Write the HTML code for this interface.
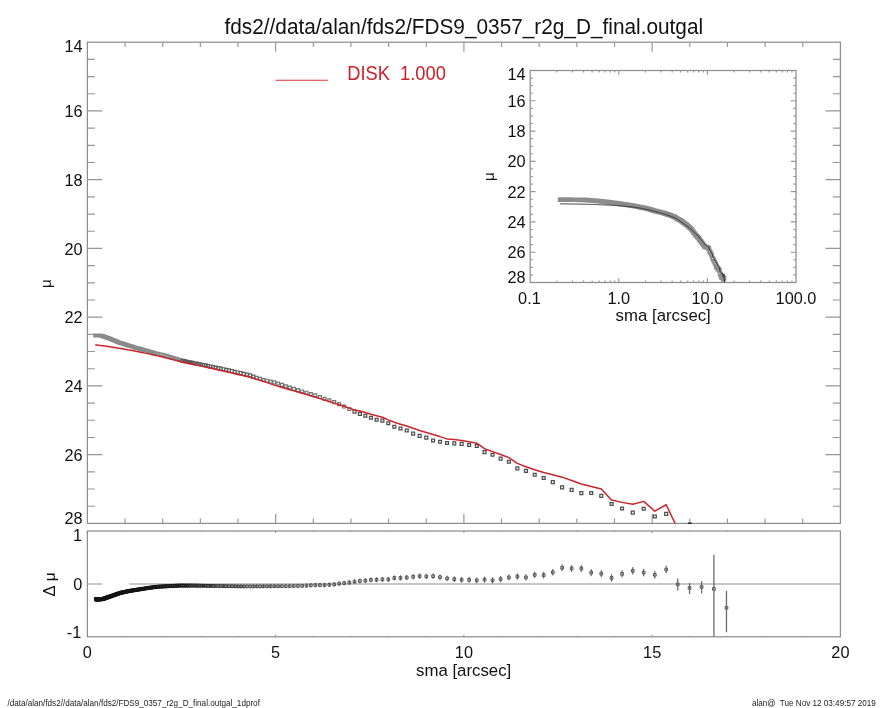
<!DOCTYPE html>
<html><head><meta charset="utf-8"><title>fds2//data/alan/fds2/FDS9_0357_r2g_D_final.outgal</title>
<style>
html,body{margin:0;padding:0;background:#fff;width:885px;height:708px;overflow:hidden}
svg{display:block;will-change:transform}
text{font-family:"Liberation Sans",Arial,Helvetica,sans-serif;fill:#111}
.ax{stroke:#8e8e8e;stroke-width:1.25;fill:none}
.tk{stroke:#969696;stroke-width:1.15;fill:none}
</style></head><body>
<svg width="885" height="708" viewBox="0 0 885 708">
<rect width="885" height="708" fill="#fff"/>
<text transform="translate(224.5 33.7) scale(1 1.09)" y="0" font-size="20.8">fds2//data/alan/fds2/FDS9_0357_r2g_D_final.outgal</text>
<rect class="ax" x="87.4" y="42.2" width="753" height="481.2"/>
<path class="tk" d="M125.05 523.4v-4.8M125.05 42.2v4.8M162.7 523.4v-4.8M162.7 42.2v4.8M200.35 523.4v-4.8M200.35 42.2v4.8M238 523.4v-4.8M238 42.2v4.8M275.65 523.4v-9.6M275.65 42.2v9.6M313.3 523.4v-4.8M313.3 42.2v4.8M350.95 523.4v-4.8M350.95 42.2v4.8M388.6 523.4v-4.8M388.6 42.2v4.8M426.25 523.4v-4.8M426.25 42.2v4.8M463.9 523.4v-9.6M463.9 42.2v9.6M501.55 523.4v-4.8M501.55 42.2v4.8M539.2 523.4v-4.8M539.2 42.2v4.8M576.85 523.4v-4.8M576.85 42.2v4.8M614.5 523.4v-4.8M614.5 42.2v4.8M652.15 523.4v-9.6M652.15 42.2v9.6M689.8 523.4v-4.8M689.8 42.2v4.8M727.45 523.4v-4.8M727.45 42.2v4.8M765.1 523.4v-4.8M765.1 42.2v4.8M802.75 523.4v-4.8M802.75 42.2v4.8M87.4 59.39h7.5M840.4 59.39h-7.5M87.4 76.57h7.5M840.4 76.57h-7.5M87.4 93.76h7.5M840.4 93.76h-7.5M87.4 110.94h15M840.4 110.94h-15M87.4 128.13h7.5M840.4 128.13h-7.5M87.4 145.31h7.5M840.4 145.31h-7.5M87.4 162.5h7.5M840.4 162.5h-7.5M87.4 179.69h15M840.4 179.69h-15M87.4 196.87h7.5M840.4 196.87h-7.5M87.4 214.06h7.5M840.4 214.06h-7.5M87.4 231.24h7.5M840.4 231.24h-7.5M87.4 248.43h15M840.4 248.43h-15M87.4 265.61h7.5M840.4 265.61h-7.5M87.4 282.8h7.5M840.4 282.8h-7.5M87.4 299.99h7.5M840.4 299.99h-7.5M87.4 317.17h15M840.4 317.17h-15M87.4 334.36h7.5M840.4 334.36h-7.5M87.4 351.54h7.5M840.4 351.54h-7.5M87.4 368.73h7.5M840.4 368.73h-7.5M87.4 385.91h15M840.4 385.91h-15M87.4 403.1h7.5M840.4 403.1h-7.5M87.4 420.29h7.5M840.4 420.29h-7.5M87.4 437.47h7.5M840.4 437.47h-7.5M87.4 454.66h15M840.4 454.66h-15M87.4 471.84h7.5M840.4 471.84h-7.5M87.4 489.03h7.5M840.4 489.03h-7.5M87.4 506.21h7.5M840.4 506.21h-7.5"/>
<text transform="translate(82.6 45.8) scale(1 1.05)" y="5.8" font-size="16.3" text-anchor="end">14</text>
<text transform="translate(82.6 110.94) scale(1 1.05)" y="5.8" font-size="16.3" text-anchor="end">16</text>
<text transform="translate(82.6 179.69) scale(1 1.05)" y="5.8" font-size="16.3" text-anchor="end">18</text>
<text transform="translate(82.6 248.43) scale(1 1.05)" y="5.8" font-size="16.3" text-anchor="end">20</text>
<text transform="translate(82.6 317.17) scale(1 1.05)" y="5.8" font-size="16.3" text-anchor="end">22</text>
<text transform="translate(82.6 385.91) scale(1 1.05)" y="5.8" font-size="16.3" text-anchor="end">24</text>
<text transform="translate(82.6 454.66) scale(1 1.05)" y="5.8" font-size="16.3" text-anchor="end">26</text>
<text transform="translate(82.6 518.2) scale(1 1.05)" y="5.8" font-size="16.3" text-anchor="end">28</text>
<text transform="translate(50.9,283.6) rotate(-90)" font-size="15.2" text-anchor="middle">μ</text>
<path d="M275.5 80.3H327.8" stroke="#e23030" stroke-width="1.1" fill="none"/>
<text transform="translate(347.2 73.4) scale(1 1.06)" y="6.5" font-size="18.3" style="fill:#cf1f28;white-space:pre" xml:space="preserve">DISK  1.000</text>
<defs><clipPath id="cm"><rect x="87.4" y="42.2" width="753" height="481.2"/></clipPath><clipPath id="ci"><rect x="530.2" y="70.5" width="265.8" height="212"/></clipPath><clipPath id="cr"><rect x="87.4" y="531.0" width="753" height="105.8"/></clipPath></defs>
<g clip-path="url(#cm)"><path d="M93.74 333.95h2.9v2.9h-2.9zM93.9 333.95h2.9v2.9h-2.9zM94.07 333.95h2.9v2.9h-2.9zM94.24 333.95h2.9v2.9h-2.9zM94.42 333.96h2.9v2.9h-2.9zM94.59 333.97h2.9v2.9h-2.9zM94.77 333.98h2.9v2.9h-2.9zM94.96 333.99h2.9v2.9h-2.9zM95.15 334h2.9v2.9h-2.9zM95.34 334.01h2.9v2.9h-2.9zM95.54 334.02h2.9v2.9h-2.9zM95.73 334.03h2.9v2.9h-2.9zM95.94 334.04h2.9v2.9h-2.9zM96.15 334.05h2.9v2.9h-2.9zM96.36 334.06h2.9v2.9h-2.9zM96.58 334.07h2.9v2.9h-2.9zM96.8 334.08h2.9v2.9h-2.9zM97.02 334.09h2.9v2.9h-2.9zM97.25 334.11h2.9v2.9h-2.9zM97.49 334.12h2.9v2.9h-2.9zM97.72 334.13h2.9v2.9h-2.9zM97.97 334.14h2.9v2.9h-2.9zM98.22 334.15h2.9v2.9h-2.9zM98.47 334.17h2.9v2.9h-2.9zM98.73 334.18h2.9v2.9h-2.9zM98.99 334.19h2.9v2.9h-2.9zM99.26 334.21h2.9v2.9h-2.9zM99.54 334.22h2.9v2.9h-2.9zM99.82 334.23h2.9v2.9h-2.9zM100.1 334.25h2.9v2.9h-2.9zM100.39 334.34h2.9v2.9h-2.9zM100.69 334.45h2.9v2.9h-2.9zM100.99 334.56h2.9v2.9h-2.9zM101.3 334.67h2.9v2.9h-2.9zM101.62 334.79h2.9v2.9h-2.9zM101.94 334.91h2.9v2.9h-2.9zM102.27 335.03h2.9v2.9h-2.9zM102.6 335.15h2.9v2.9h-2.9zM102.94 335.27h2.9v2.9h-2.9zM103.29 335.4h2.9v2.9h-2.9zM103.64 335.53h2.9v2.9h-2.9zM104.01 335.66h2.9v2.9h-2.9zM104.38 335.8h2.9v2.9h-2.9zM104.75 335.94h2.9v2.9h-2.9zM105.14 336.08h2.9v2.9h-2.9zM105.53 336.22h2.9v2.9h-2.9zM105.93 336.37h2.9v2.9h-2.9zM106.34 336.52h2.9v2.9h-2.9zM106.75 336.67h2.9v2.9h-2.9zM107.18 336.83h2.9v2.9h-2.9zM107.61 336.99h2.9v2.9h-2.9zM108.05 337.15h2.9v2.9h-2.9zM108.5 337.31h2.9v2.9h-2.9zM108.96 337.48h2.9v2.9h-2.9zM109.43 337.66h2.9v2.9h-2.9zM109.91 337.85h2.9v2.9h-2.9zM110.39 338.05h2.9v2.9h-2.9zM110.89 338.25h2.9v2.9h-2.9zM111.4 338.45h2.9v2.9h-2.9zM111.92 338.66h2.9v2.9h-2.9zM112.44 338.87h2.9v2.9h-2.9zM112.98 339.08h2.9v2.9h-2.9zM113.53 339.3h2.9v2.9h-2.9zM114.09 339.53h2.9v2.9h-2.9zM114.66 339.75h2.9v2.9h-2.9zM115.24 339.99h2.9v2.9h-2.9zM115.84 340.22h2.9v2.9h-2.9zM116.44 340.47h2.9v2.9h-2.9zM117.06 340.71h2.9v2.9h-2.9zM117.69 340.97h2.9v2.9h-2.9zM118.33 341.21h2.9v2.9h-2.9zM118.99 341.43h2.9v2.9h-2.9zM119.66 341.65h2.9v2.9h-2.9zM120.34 341.87h2.9v2.9h-2.9zM121.04 342.1h2.9v2.9h-2.9zM121.75 342.34h2.9v2.9h-2.9zM122.47 342.57h2.9v2.9h-2.9zM123.21 342.82h2.9v2.9h-2.9zM123.96 343.07h2.9v2.9h-2.9zM124.73 343.32h2.9v2.9h-2.9zM125.52 343.58h2.9v2.9h-2.9zM126.32 343.84h2.9v2.9h-2.9zM127.13 344.11h2.9v2.9h-2.9zM127.96 344.36h2.9v2.9h-2.9zM128.81 344.62h2.9v2.9h-2.9zM129.68 344.88h2.9v2.9h-2.9zM130.56 345.14h2.9v2.9h-2.9zM131.46 345.41h2.9v2.9h-2.9zM132.38 345.69h2.9v2.9h-2.9zM133.31 345.97h2.9v2.9h-2.9zM134.27 346.26h2.9v2.9h-2.9zM135.24 346.55h2.9v2.9h-2.9zM136.24 346.85h2.9v2.9h-2.9zM137.25 347.11h2.9v2.9h-2.9zM138.29 347.39h2.9v2.9h-2.9zM139.34 347.67h2.9v2.9h-2.9zM140.42 347.95h2.9v2.9h-2.9zM141.52 348.24h2.9v2.9h-2.9zM142.64 348.53h2.9v2.9h-2.9zM143.78 348.84h2.9v2.9h-2.9zM144.94 349.14h2.9v2.9h-2.9zM146.13 349.48h2.9v2.9h-2.9zM147.34 349.83h2.9v2.9h-2.9zM148.58 350.18h2.9v2.9h-2.9zM149.84 350.55h2.9v2.9h-2.9zM151.12 350.92h2.9v2.9h-2.9zM152.44 351.3h2.9v2.9h-2.9zM153.77 351.68h2.9v2.9h-2.9zM155.14 352.03h2.9v2.9h-2.9zM156.53 352.35h2.9v2.9h-2.9zM157.95 352.68h2.9v2.9h-2.9zM159.4 353.02h2.9v2.9h-2.9zM160.88 353.36h2.9v2.9h-2.9zM162.38 353.7h2.9v2.9h-2.9zM163.92 354.09h2.9v2.9h-2.9zM165.49 354.57h2.9v2.9h-2.9zM167.09 355.06h2.9v2.9h-2.9zM168.72 355.56h2.9v2.9h-2.9zM170.38 356.06h2.9v2.9h-2.9zM172.08 356.58h2.9v2.9h-2.9zM173.81 357.11h2.9v2.9h-2.9zM175.57 357.65h2.9v2.9h-2.9zM177.37 358.2h2.9v2.9h-2.9zM179.21 358.76h2.9v2.9h-2.9z" stroke="#8a8a8a" stroke-width="1.1" fill="none"/><path d="M181.08 359.33h2.9v2.9h-2.9zM183 359.72h2.9v2.9h-2.9zM184.94 360.11h2.9v2.9h-2.9zM186.93 360.5h2.9v2.9h-2.9zM188.96 360.91h2.9v2.9h-2.9zM191.03 361.32h2.9v2.9h-2.9zM193.14 361.74h2.9v2.9h-2.9zM195.29 362.17h2.9v2.9h-2.9zM197.49 362.6h2.9v2.9h-2.9zM199.72 363.05h2.9v2.9h-2.9zM202.01 363.5h2.9v2.9h-2.9zM204.34 363.97h2.9v2.9h-2.9zM206.71 364.48h2.9v2.9h-2.9zM209.14 364.99h2.9v2.9h-2.9zM211.61 365.52h2.9v2.9h-2.9zM214.13 366.05h2.9v2.9h-2.9zM216.7 366.6h2.9v2.9h-2.9zM219.33 367.16h2.9v2.9h-2.9zM222 367.73h2.9v2.9h-2.9zM224.73 368.31h2.9v2.9h-2.9zM227.51 368.93h2.9v2.9h-2.9zM230.35 369.61h2.9v2.9h-2.9zM233.25 370.3h2.9v2.9h-2.9zM236.2 371h2.9v2.9h-2.9zM239.22 371.72h2.9v2.9h-2.9zM242.29 372.46h2.9v2.9h-2.9zM245.43 373.21h2.9v2.9h-2.9zM248.62 373.97h2.9v2.9h-2.9zM251.88 375.17h2.9v2.9h-2.9z" stroke="#5a5a5a" stroke-width="1.2" fill="none"/><path d="M255.21 376.44h2.9v2.9h-2.9zM258.61 377.34h2.9v2.9h-2.9zM262.07 378.55h2.9v2.9h-2.9zM265.6 379.24h2.9v2.9h-2.9zM269.2 380.18h2.9v2.9h-2.9zM272.87 380.91h2.9v2.9h-2.9zM276.62 382.11h2.9v2.9h-2.9zM280.44 383.47h2.9v2.9h-2.9zM284.34 384.84h2.9v2.9h-2.9zM288.31 386.07h2.9v2.9h-2.9zM292.37 387.39h2.9v2.9h-2.9zM296.51 388.67h2.9v2.9h-2.9zM300.72 390h2.9v2.9h-2.9zM305.03 391.26h2.9v2.9h-2.9zM309.42 392.56h2.9v2.9h-2.9zM313.9 393.8h2.9v2.9h-2.9zM318.46 395.59h2.9v2.9h-2.9zM323.12 397.39h2.9v2.9h-2.9zM327.87 398.8h2.9v2.9h-2.9zM332.72 400.68h2.9v2.9h-2.9zM337.66 402.67h2.9v2.9h-2.9zM342.71 405.08h2.9v2.9h-2.9zM347.85 407.55h2.9v2.9h-2.9z" stroke="#747474" stroke-width="1.2" fill="none"/><path d="M353.1 410.17h2.9v2.9h-2.9zM358.45 412.35h2.9v2.9h-2.9zM363.9 414.3h2.9v2.9h-2.9zM369.47 416.26h2.9v2.9h-2.9zM375.15 418.28h2.9v2.9h-2.9zM380.94 419.23h2.9v2.9h-2.9zM386.85 421.81h2.9v2.9h-2.9zM392.88 425.31h2.9v2.9h-2.9zM399.02 427.04h2.9v2.9h-2.9zM405.29 429.03h2.9v2.9h-2.9zM411.69 432.16h2.9v2.9h-2.9zM418.21 434.4h2.9v2.9h-2.9zM424.86 436.1h2.9v2.9h-2.9zM431.65 439.01h2.9v2.9h-2.9zM438.57 440.34h2.9v2.9h-2.9zM445.63 441.56h2.9v2.9h-2.9zM452.84 441.85h2.9v2.9h-2.9zM460.18 442.44h2.9v2.9h-2.9zM467.67 443.55h2.9v2.9h-2.9zM475.32 444.58h2.9v2.9h-2.9zM483.11 450.67h2.9v2.9h-2.9zM491.06 453.26h2.9v2.9h-2.9zM499.18 457.11h2.9v2.9h-2.9zM507.45 460.31h2.9v2.9h-2.9zM515.89 466.96h2.9v2.9h-2.9zM524.49 469.37h2.9v2.9h-2.9zM533.27 473.31h2.9v2.9h-2.9zM542.23 476.57h2.9v2.9h-2.9zM551.36 480.61h2.9v2.9h-2.9zM560.68 485.91h2.9v2.9h-2.9zM570.18 488.36h2.9v2.9h-2.9zM579.87 491.72h2.9v2.9h-2.9zM589.76 491.58h2.9v2.9h-2.9zM599.84 494.42h2.9v2.9h-2.9zM610.13 502.53h2.9v2.9h-2.9zM620.62 507.09h2.9v2.9h-2.9zM631.32 511.2h2.9v2.9h-2.9zM642.24 507.29h2.9v2.9h-2.9zM653.37 515h2.9v2.9h-2.9zM664.73 512.45h2.9v2.9h-2.9zM676.31 527.31h2.9v2.9h-2.9zM688.13 541.72h2.9v2.9h-2.9zM700.18 557.41h2.9v2.9h-2.9zM712.47 571.06h2.9v2.9h-2.9zM725.01 571.65h2.9v2.9h-2.9z" stroke="#4e4e4e" stroke-width="1.25" fill="none"/><polyline points="95.19,344.9 95.35,344.9 95.52,344.9 95.69,344.91 95.87,344.93 96.04,344.95 96.22,344.98 96.41,345 96.6,345.02 96.79,345.05 96.99,345.07 97.18,345.1 97.39,345.12 97.6,345.15 97.81,345.17 98.03,345.2 98.25,345.23 98.47,345.26 98.7,345.28 98.94,345.31 99.17,345.34 99.42,345.37 99.67,345.4 99.92,345.43 100.18,345.47 100.44,345.5 100.71,345.53 100.99,345.57 101.27,345.6 101.55,345.64 101.84,345.67 102.14,345.71 102.44,345.75 102.75,345.79 103.07,345.82 103.39,345.86 103.72,345.9 104.05,345.95 104.39,345.99 104.74,346.03 105.09,346.08 105.46,346.12 105.83,346.17 106.2,346.22 106.59,346.28 106.98,346.34 107.38,346.4 107.79,346.46 108.2,346.53 108.63,346.59 109.06,346.66 109.5,346.73 109.95,346.8 110.41,346.87 110.88,346.94 111.36,347.02 111.84,347.09 112.34,347.17 112.85,347.25 113.37,347.33 113.89,347.41 114.43,347.5 114.98,347.58 115.54,347.67 116.11,347.77 116.69,347.86 117.29,347.96 117.89,348.06 118.51,348.16 119.14,348.27 119.78,348.37 120.44,348.48 121.11,348.59 121.79,348.7 122.49,348.82 123.2,348.93 123.92,349.05 124.66,349.18 125.41,349.32 126.18,349.45 126.97,349.59 127.77,349.73 128.58,349.88 129.41,350.03 130.26,350.18 131.13,350.33 132.01,350.49 132.91,350.65 133.83,350.83 134.76,351.01 135.72,351.2 136.69,351.4 137.69,351.6 138.7,351.8 139.74,352.01 140.79,352.22 141.87,352.43 142.97,352.66 144.09,352.89 145.23,353.13 146.39,353.38 147.58,353.62 148.79,353.88 150.03,354.13 151.29,354.4 152.57,354.68 153.89,354.97 155.22,355.27 156.59,355.58 157.98,355.88 159.4,356.2 160.85,356.54 162.33,356.93 163.83,357.32 165.37,357.72 166.94,358.12 168.54,358.53 170.17,358.93 171.83,359.34 173.53,359.76 175.26,360.19 177.02,360.62 178.82,361.07 180.66,361.52 182.53,361.98 184.45,362.41 186.39,362.84 188.38,363.28 190.41,363.73 192.48,364.19 194.59,364.65 196.74,365.13 198.94,365.61 201.17,366.11 203.46,366.61 205.79,367.13 208.16,367.67 210.59,368.22 213.06,368.77 215.58,369.34 218.15,369.92 220.78,370.51 223.45,371.12 226.18,371.73 228.96,372.37 231.8,373.04 234.7,373.72 237.65,374.41 240.67,375.12 243.74,375.84 246.88,376.57 250.07,377.32 253.33,378.29 256.66,379.29 260.06,380.32 263.52,381.48 267.05,382.66 270.65,383.87 274.32,385.1 278.07,386.33 281.89,387.43 285.79,388.55 289.76,389.7 293.82,390.86 297.96,392.05 302.17,393.29 306.48,394.59 310.87,395.91 315.35,397.26 319.91,398.63 324.57,400.06 329.32,401.58 334.17,403.12 339.11,404.7 344.16,406.3 349.3,408.12 354.55,410.03 359.9,411.05 365.35,412.52 370.92,414.2 376.6,415.68 382.39,417.31 388.3,419.85 394.33,422.25 400.47,424.19 406.74,426.08 413.14,428.29 419.66,430.46 426.31,432.46 433.1,434.5 440.02,436.59 447.08,438.9 454.29,439.6 461.63,440.5 469.12,441.69 476.77,443.22 484.56,448.72 492.51,451.61 500.63,454.57 508.9,457.61 517.34,463.41 525.94,466.81 534.72,469.77 543.68,472.52 552.81,474.81 562.13,477.15 571.63,480.44 581.32,483.93 591.21,486.4 601.29,489 611.58,500.06 622.07,502.37 632.77,504.28 643.69,501.38 654.82,511.13 666.18,504.74 677.76,528.99 689.58,545.97 701.63,561.01 713.92,575.99 726.46,590" stroke="#cc2429" stroke-width="1.5" fill="none" stroke-linejoin="round"/></g>
<path d="M687.9 523.2H691.7" stroke="#1a1a1a" stroke-width="1.4" fill="none"/>
<rect x="530.2" y="70.5" width="265.8" height="212" fill="#fff"/><rect class="ax" x="530.2" y="70.5" width="265.8" height="212"/>
<path class="tk" d="M556.87 282.5v-2.1M556.87 70.5v2.1M572.47 282.5v-2.1M572.47 70.5v2.1M583.54 282.5v-2.1M583.54 70.5v2.1M592.13 282.5v-2.1M592.13 70.5v2.1M599.14 282.5v-2.1M599.14 70.5v2.1M605.08 282.5v-2.1M605.08 70.5v2.1M610.21 282.5v-2.1M610.21 70.5v2.1M614.75 282.5v-2.1M614.75 70.5v2.1M618.8 282.5v-4.2M618.8 70.5v4.2M645.47 282.5v-2.1M645.47 70.5v2.1M661.07 282.5v-2.1M661.07 70.5v2.1M672.14 282.5v-2.1M672.14 70.5v2.1M680.73 282.5v-2.1M680.73 70.5v2.1M687.74 282.5v-2.1M687.74 70.5v2.1M693.68 282.5v-2.1M693.68 70.5v2.1M698.81 282.5v-2.1M698.81 70.5v2.1M703.35 282.5v-2.1M703.35 70.5v2.1M707.4 282.5v-4.2M707.4 70.5v4.2M734.07 282.5v-2.1M734.07 70.5v2.1M749.67 282.5v-2.1M749.67 70.5v2.1M760.74 282.5v-2.1M760.74 70.5v2.1M769.33 282.5v-2.1M769.33 70.5v2.1M776.34 282.5v-2.1M776.34 70.5v2.1M782.28 282.5v-2.1M782.28 70.5v2.1M787.41 282.5v-2.1M787.41 70.5v2.1M791.95 282.5v-2.1M791.95 70.5v2.1M530.2 78.07h2.65M796 78.07h-2.65M530.2 85.64h2.65M796 85.64h-2.65M530.2 93.21h2.65M796 93.21h-2.65M530.2 100.79h5.3M796 100.79h-5.3M530.2 108.36h2.65M796 108.36h-2.65M530.2 115.93h2.65M796 115.93h-2.65M530.2 123.5h2.65M796 123.5h-2.65M530.2 131.07h5.3M796 131.07h-5.3M530.2 138.64h2.65M796 138.64h-2.65M530.2 146.21h2.65M796 146.21h-2.65M530.2 153.79h2.65M796 153.79h-2.65M530.2 161.36h5.3M796 161.36h-5.3M530.2 168.93h2.65M796 168.93h-2.65M530.2 176.5h2.65M796 176.5h-2.65M530.2 184.07h2.65M796 184.07h-2.65M530.2 191.64h5.3M796 191.64h-5.3M530.2 199.21h2.65M796 199.21h-2.65M530.2 206.79h2.65M796 206.79h-2.65M530.2 214.36h2.65M796 214.36h-2.65M530.2 221.93h5.3M796 221.93h-5.3M530.2 229.5h2.65M796 229.5h-2.65M530.2 237.07h2.65M796 237.07h-2.65M530.2 244.64h2.65M796 244.64h-2.65M530.2 252.21h5.3M796 252.21h-5.3M530.2 259.79h2.65M796 259.79h-2.65M530.2 267.36h2.65M796 267.36h-2.65M530.2 274.93h2.65M796 274.93h-2.65"/>
<text transform="translate(525.6 74.1) scale(1 1.05)" y="5.8" font-size="16.3" text-anchor="end">14</text>
<text transform="translate(525.6 100.79) scale(1 1.05)" y="5.8" font-size="16.3" text-anchor="end">16</text>
<text transform="translate(525.6 131.07) scale(1 1.05)" y="5.8" font-size="16.3" text-anchor="end">18</text>
<text transform="translate(525.6 161.36) scale(1 1.05)" y="5.8" font-size="16.3" text-anchor="end">20</text>
<text transform="translate(525.6 191.64) scale(1 1.05)" y="5.8" font-size="16.3" text-anchor="end">22</text>
<text transform="translate(525.6 221.93) scale(1 1.05)" y="5.8" font-size="16.3" text-anchor="end">24</text>
<text transform="translate(525.6 252.21) scale(1 1.05)" y="5.8" font-size="16.3" text-anchor="end">26</text>
<text transform="translate(525.6 277.3) scale(1 1.05)" y="5.8" font-size="16.3" text-anchor="end">28</text>
<text transform="translate(529.4 297.8) scale(1 1.05)" y="5.8" font-size="16.3" text-anchor="middle">0.1</text>
<text transform="translate(618.8 297.8) scale(1 1.05)" y="5.8" font-size="16.3" text-anchor="middle">1.0</text>
<text transform="translate(707.4 297.8) scale(1 1.05)" y="5.8" font-size="16.3" text-anchor="middle">10.0</text>
<text transform="translate(796 297.8) scale(1 1.05)" y="5.8" font-size="16.3" text-anchor="middle">100.0</text>
<text transform="translate(663.2 315) scale(1 1.03)" y="6" font-size="16.8" text-anchor="middle">sma [arcsec]</text>
<text transform="translate(493.7,176.6) rotate(-90)" font-size="15.2" text-anchor="middle">μ</text>
<g clip-path="url(#ci)"><path d="M558.35 197.87h3.6v3.6h-3.6zM559.11 197.87h3.6v3.6h-3.6zM559.87 197.87h3.6v3.6h-3.6zM560.63 197.88h3.6v3.6h-3.6zM561.4 197.88h3.6v3.6h-3.6zM562.16 197.88h3.6v3.6h-3.6zM562.92 197.89h3.6v3.6h-3.6zM563.68 197.89h3.6v3.6h-3.6zM564.44 197.9h3.6v3.6h-3.6zM565.21 197.9h3.6v3.6h-3.6zM565.97 197.9h3.6v3.6h-3.6zM566.73 197.91h3.6v3.6h-3.6zM567.49 197.91h3.6v3.6h-3.6zM568.25 197.92h3.6v3.6h-3.6zM569.02 197.92h3.6v3.6h-3.6zM569.78 197.93h3.6v3.6h-3.6zM570.54 197.93h3.6v3.6h-3.6zM571.3 197.94h3.6v3.6h-3.6zM572.06 197.94h3.6v3.6h-3.6zM572.83 197.95h3.6v3.6h-3.6zM573.59 197.95h3.6v3.6h-3.6zM574.35 197.96h3.6v3.6h-3.6zM575.11 197.96h3.6v3.6h-3.6zM575.87 197.97h3.6v3.6h-3.6zM576.64 197.97h3.6v3.6h-3.6zM577.4 197.98h3.6v3.6h-3.6zM578.16 197.99h3.6v3.6h-3.6zM578.92 197.99h3.6v3.6h-3.6zM579.68 198h3.6v3.6h-3.6zM580.45 198h3.6v3.6h-3.6zM581.21 198.05h3.6v3.6h-3.6zM581.97 198.09h3.6v3.6h-3.6zM582.73 198.14h3.6v3.6h-3.6zM583.49 198.19h3.6v3.6h-3.6zM584.26 198.24h3.6v3.6h-3.6zM585.02 198.29h3.6v3.6h-3.6zM585.78 198.35h3.6v3.6h-3.6zM586.54 198.4h3.6v3.6h-3.6zM587.3 198.46h3.6v3.6h-3.6zM588.07 198.51h3.6v3.6h-3.6zM588.83 198.57h3.6v3.6h-3.6zM589.59 198.63h3.6v3.6h-3.6zM590.35 198.69h3.6v3.6h-3.6zM591.11 198.75h3.6v3.6h-3.6zM591.88 198.81h3.6v3.6h-3.6zM592.64 198.87h3.6v3.6h-3.6zM593.4 198.94h3.6v3.6h-3.6zM594.16 199.01h3.6v3.6h-3.6zM594.92 199.07h3.6v3.6h-3.6zM595.69 199.14h3.6v3.6h-3.6zM596.45 199.21h3.6v3.6h-3.6zM597.21 199.28h3.6v3.6h-3.6zM597.97 199.35h3.6v3.6h-3.6zM598.73 199.43h3.6v3.6h-3.6zM599.5 199.51h3.6v3.6h-3.6zM600.26 199.59h3.6v3.6h-3.6zM601.02 199.68h3.6v3.6h-3.6zM601.78 199.77h3.6v3.6h-3.6zM602.54 199.86h3.6v3.6h-3.6zM603.3 199.95h3.6v3.6h-3.6zM604.07 200.04h3.6v3.6h-3.6zM604.83 200.13h3.6v3.6h-3.6zM605.59 200.23h3.6v3.6h-3.6zM606.35 200.33h3.6v3.6h-3.6zM607.11 200.43h3.6v3.6h-3.6zM607.88 200.53h3.6v3.6h-3.6zM608.64 200.64h3.6v3.6h-3.6zM609.4 200.74h3.6v3.6h-3.6zM610.16 200.85h3.6v3.6h-3.6zM610.92 200.96h3.6v3.6h-3.6zM611.69 201.07h3.6v3.6h-3.6zM612.45 201.17h3.6v3.6h-3.6zM613.21 201.26h3.6v3.6h-3.6zM613.97 201.36h3.6v3.6h-3.6zM614.73 201.47h3.6v3.6h-3.6zM615.5 201.57h3.6v3.6h-3.6zM616.26 201.67h3.6v3.6h-3.6zM617.02 201.78h3.6v3.6h-3.6zM617.78 201.89h3.6v3.6h-3.6zM618.54 202h3.6v3.6h-3.6zM619.31 202.12h3.6v3.6h-3.6zM620.07 202.23h3.6v3.6h-3.6zM620.83 202.35h3.6v3.6h-3.6zM621.59 202.46h3.6v3.6h-3.6zM622.35 202.57h3.6v3.6h-3.6zM623.12 202.69h3.6v3.6h-3.6zM623.88 202.8h3.6v3.6h-3.6zM624.64 202.92h3.6v3.6h-3.6zM625.4 203.05h3.6v3.6h-3.6zM626.16 203.17h3.6v3.6h-3.6zM626.93 203.3h3.6v3.6h-3.6zM627.69 203.42h3.6v3.6h-3.6zM628.45 203.56h3.6v3.6h-3.6zM629.21 203.67h3.6v3.6h-3.6zM629.97 203.79h3.6v3.6h-3.6zM630.74 203.92h3.6v3.6h-3.6zM631.5 204.04h3.6v3.6h-3.6zM632.26 204.17h3.6v3.6h-3.6zM633.02 204.3h3.6v3.6h-3.6zM633.78 204.43h3.6v3.6h-3.6zM634.55 204.57h3.6v3.6h-3.6zM635.31 204.71h3.6v3.6h-3.6zM636.07 204.87h3.6v3.6h-3.6zM636.83 205.03h3.6v3.6h-3.6zM637.59 205.19h3.6v3.6h-3.6zM638.36 205.35h3.6v3.6h-3.6zM639.12 205.52h3.6v3.6h-3.6zM639.88 205.69h3.6v3.6h-3.6zM640.64 205.84h3.6v3.6h-3.6zM641.4 205.98h3.6v3.6h-3.6zM642.17 206.13h3.6v3.6h-3.6zM642.93 206.27h3.6v3.6h-3.6zM643.69 206.42h3.6v3.6h-3.6zM644.45 206.58h3.6v3.6h-3.6zM645.21 206.75h3.6v3.6h-3.6zM645.98 206.96h3.6v3.6h-3.6zM646.74 207.17h3.6v3.6h-3.6zM647.5 207.39h3.6v3.6h-3.6zM648.26 207.62h3.6v3.6h-3.6zM649.02 207.84h3.6v3.6h-3.6zM649.79 208.08h3.6v3.6h-3.6zM650.55 208.31h3.6v3.6h-3.6zM651.31 208.56h3.6v3.6h-3.6zM652.07 208.8h3.6v3.6h-3.6zM652.83 209.06h3.6v3.6h-3.6zM653.6 209.23h3.6v3.6h-3.6zM654.36 209.4h3.6v3.6h-3.6zM655.12 209.57h3.6v3.6h-3.6zM655.88 209.75h3.6v3.6h-3.6zM656.64 209.93h3.6v3.6h-3.6zM657.41 210.12h3.6v3.6h-3.6zM658.17 210.3h3.6v3.6h-3.6zM658.93 210.5h3.6v3.6h-3.6zM659.69 210.69h3.6v3.6h-3.6zM660.45 210.89h3.6v3.6h-3.6zM661.22 211.1h3.6v3.6h-3.6zM661.98 211.32h3.6v3.6h-3.6zM662.74 211.55h3.6v3.6h-3.6zM663.5 211.78h3.6v3.6h-3.6zM664.26 212.02h3.6v3.6h-3.6zM665.02 212.26h3.6v3.6h-3.6zM665.79 212.5h3.6v3.6h-3.6zM666.55 212.75h3.6v3.6h-3.6zM667.31 213.01h3.6v3.6h-3.6zM668.07 213.28h3.6v3.6h-3.6zM668.83 213.58h3.6v3.6h-3.6zM669.6 213.89h3.6v3.6h-3.6zM670.36 214.2h3.6v3.6h-3.6zM671.12 214.52h3.6v3.6h-3.6zM671.88 214.84h3.6v3.6h-3.6zM672.64 215.17h3.6v3.6h-3.6zM673.41 215.51h3.6v3.6h-3.6zM674.17 216.03h3.6v3.6h-3.6zM674.93 216.59h3.6v3.6h-3.6zM675.69 216.99h3.6v3.6h-3.6zM676.45 217.52h3.6v3.6h-3.6zM677.22 217.83h3.6v3.6h-3.6zM677.98 218.24h3.6v3.6h-3.6zM678.74 218.56h3.6v3.6h-3.6zM679.5 219.09h3.6v3.6h-3.6zM680.26 219.69h3.6v3.6h-3.6zM681.03 220.29h3.6v3.6h-3.6zM681.79 220.84h3.6v3.6h-3.6zM682.55 221.42h3.6v3.6h-3.6zM683.31 221.98h3.6v3.6h-3.6zM684.07 222.57h3.6v3.6h-3.6zM684.84 223.12h3.6v3.6h-3.6zM685.6 223.7h3.6v3.6h-3.6zM686.36 224.24h3.6v3.6h-3.6zM687.12 225.03h3.6v3.6h-3.6zM687.88 225.82h3.6v3.6h-3.6zM688.65 226.44h3.6v3.6h-3.6zM689.41 227.27h3.6v3.6h-3.6zM690.17 228.15h3.6v3.6h-3.6zM690.93 229.21h3.6v3.6h-3.6zM691.69 230.3h3.6v3.6h-3.6zM692.46 231.45h3.6v3.6h-3.6zM693.22 232.41h3.6v3.6h-3.6zM693.98 233.27h3.6v3.6h-3.6zM694.74 234.14h3.6v3.6h-3.6zM695.5 235.03h3.6v3.6h-3.6zM696.27 235.45h3.6v3.6h-3.6zM697.03 236.58h3.6v3.6h-3.6zM697.79 238.12h3.6v3.6h-3.6zM698.55 238.89h3.6v3.6h-3.6zM699.31 239.76h3.6v3.6h-3.6zM700.08 241.14h3.6v3.6h-3.6zM700.84 242.13h3.6v3.6h-3.6zM701.6 242.88h3.6v3.6h-3.6zM702.36 244.16h3.6v3.6h-3.6zM703.12 244.74h3.6v3.6h-3.6zM703.89 245.28h3.6v3.6h-3.6zM704.65 245.41h3.6v3.6h-3.6zM705.41 245.67h3.6v3.6h-3.6zM706.17 246.16h3.6v3.6h-3.6zM706.93 246.61h3.6v3.6h-3.6zM707.7 249.3h3.6v3.6h-3.6zM708.46 250.44h3.6v3.6h-3.6zM709.22 252.14h3.6v3.6h-3.6zM709.98 253.54h3.6v3.6h-3.6zM710.74 256.47h3.6v3.6h-3.6zM711.51 257.53h3.6v3.6h-3.6zM712.27 259.27h3.6v3.6h-3.6zM713.03 260.71h3.6v3.6h-3.6zM713.79 262.49h3.6v3.6h-3.6zM714.55 264.82h3.6v3.6h-3.6zM715.32 265.9h3.6v3.6h-3.6zM716.08 267.38h3.6v3.6h-3.6zM716.84 267.32h3.6v3.6h-3.6zM717.6 268.57h3.6v3.6h-3.6zM718.36 272.15h3.6v3.6h-3.6zM719.13 274.15h3.6v3.6h-3.6zM719.89 275.96h3.6v3.6h-3.6zM720.65 274.24h3.6v3.6h-3.6zM721.41 277.64h3.6v3.6h-3.6zM722.17 276.52h3.6v3.6h-3.6zM722.94 283.06h3.6v3.6h-3.6zM723.7 289.41h3.6v3.6h-3.6zM724.46 296.32h3.6v3.6h-3.6zM725.22 302.34h3.6v3.6h-3.6zM725.98 302.6h3.6v3.6h-3.6z" stroke="#8c8c8c" stroke-width="1.1" fill="none"/><polyline points="560.15,203.86 560.91,203.86 561.67,203.86 562.43,203.86 563.2,203.87 563.96,203.88 564.72,203.89 565.48,203.9 566.24,203.91 567.01,203.92 567.77,203.93 568.53,203.95 569.29,203.96 570.05,203.97 570.82,203.98 571.58,203.99 572.34,204 573.1,204.02 573.86,204.03 574.63,204.04 575.39,204.05 576.15,204.07 576.91,204.08 577.67,204.09 578.44,204.11 579.2,204.12 579.96,204.14 580.72,204.15 581.48,204.17 582.25,204.18 583.01,204.2 583.77,204.22 584.53,204.23 585.29,204.25 586.06,204.27 586.82,204.28 587.58,204.3 588.34,204.32 589.1,204.34 589.87,204.36 590.63,204.38 591.39,204.4 592.15,204.42 592.91,204.44 593.68,204.47 594.44,204.49 595.2,204.52 595.96,204.55 596.72,204.58 597.49,204.61 598.25,204.63 599.01,204.66 599.77,204.7 600.53,204.73 601.3,204.76 602.06,204.79 602.82,204.83 603.58,204.86 604.34,204.89 605.1,204.93 605.87,204.97 606.63,205 607.39,205.04 608.15,205.08 608.91,205.12 609.68,205.16 610.44,205.21 611.2,205.25 611.96,205.3 612.72,205.34 613.49,205.39 614.25,205.44 615.01,205.49 615.77,205.53 616.53,205.59 617.3,205.64 618.06,205.69 618.82,205.75 619.58,205.8 620.34,205.86 621.11,205.93 621.87,205.99 622.63,206.05 623.39,206.12 624.15,206.18 624.92,206.25 625.68,206.32 626.44,206.39 627.2,206.47 627.96,206.55 628.73,206.64 629.49,206.72 630.25,206.81 631.01,206.9 631.77,206.99 632.54,207.08 633.3,207.18 634.06,207.28 634.82,207.38 635.58,207.49 636.35,207.59 637.11,207.7 637.87,207.81 638.63,207.93 639.39,208.04 640.16,208.17 640.92,208.3 641.68,208.43 642.44,208.56 643.2,208.7 643.97,208.84 644.73,208.99 645.49,209.16 646.25,209.33 647.01,209.51 647.78,209.69 648.54,209.86 649.3,210.04 650.06,210.22 650.82,210.41 651.59,210.6 652.35,210.79 653.11,210.98 653.87,211.18 654.63,211.39 655.4,211.57 656.16,211.76 656.92,211.96 657.68,212.15 658.44,212.36 659.21,212.56 659.97,212.77 660.73,212.98 661.49,213.2 662.25,213.43 663.02,213.65 663.78,213.89 664.54,214.13 665.3,214.38 666.06,214.63 666.82,214.88 667.59,215.14 668.35,215.41 669.11,215.68 669.87,215.96 670.63,216.26 671.4,216.56 672.16,216.86 672.92,217.17 673.68,217.49 674.44,217.81 675.21,218.14 675.97,218.57 676.73,219.01 677.49,219.46 678.25,219.97 679.02,220.5 679.78,221.03 680.54,221.57 681.3,222.11 682.06,222.6 682.83,223.09 683.59,223.6 684.35,224.11 685.11,224.63 685.87,225.18 686.64,225.75 687.4,226.33 688.16,226.93 688.92,227.53 689.68,228.16 690.45,228.83 691.21,229.51 691.97,230.2 692.73,230.91 693.49,231.71 694.26,232.55 695.02,233 695.78,233.65 696.54,234.39 697.3,235.04 698.07,235.76 698.83,236.88 699.59,237.94 700.35,238.79 701.11,239.63 701.88,240.6 702.64,241.55 703.4,242.44 704.16,243.34 704.92,244.25 705.69,245.27 706.45,245.58 707.21,245.98 707.97,246.5 708.73,247.17 709.5,249.6 710.26,250.87 711.02,252.18 711.78,253.52 712.54,256.07 713.31,257.57 714.07,258.87 714.83,260.08 715.59,261.09 716.35,262.13 717.12,263.57 717.88,265.11 718.64,266.2 719.4,267.34 720.16,272.22 720.93,273.24 721.69,274.08 722.45,272.8 723.21,277.1 723.97,274.28 724.74,284.96 725.5,292.44 726.26,299.07 727.02,305.67 727.78,311.84" stroke="#333" stroke-width="1" fill="none"/></g>
<rect class="ax" x="87.4" y="531.0" width="753" height="105.8"/>
<path class="tk" d="M125.05 636.8v-1.1M125.05 531v1.1M162.7 636.8v-1.1M162.7 531v1.1M200.35 636.8v-1.1M200.35 531v1.1M238 636.8v-1.1M238 531v1.1M275.65 636.8v-2.1M275.65 531v2.1M313.3 636.8v-1.1M313.3 531v1.1M350.95 636.8v-1.1M350.95 531v1.1M388.6 636.8v-1.1M388.6 531v1.1M426.25 636.8v-1.1M426.25 531v1.1M463.9 636.8v-2.1M463.9 531v2.1M501.55 636.8v-1.1M501.55 531v1.1M539.2 636.8v-1.1M539.2 531v1.1M576.85 636.8v-1.1M576.85 531v1.1M614.5 636.8v-1.1M614.5 531v1.1M652.15 636.8v-2.1M652.15 531v2.1M689.8 636.8v-1.1M689.8 531v1.1M727.45 636.8v-1.1M727.45 531v1.1M765.1 636.8v-1.1M765.1 531v1.1M802.75 636.8v-1.1M802.75 531v1.1M87.4 584.0h15"/>
<path d="M129.2 584.0H840.4" stroke="#b4b4b4" stroke-width="1.5" fill="none"/>
<text transform="translate(82 534.5) scale(1 1.05)" y="5.8" font-size="16.3" text-anchor="end">1</text>
<text transform="translate(82.2 584) scale(1 1.05)" y="5.8" font-size="16.3" text-anchor="end">0</text>
<text transform="translate(81.2 632) scale(1 1.05)" y="5.8" font-size="16.3" text-anchor="end">-1</text>
<text transform="translate(54.8,590.9) rotate(-90)" font-size="16.5" text-anchor="middle">Δ</text>
<text transform="translate(54.8,576.8) rotate(-90)" font-size="15.5" text-anchor="middle">μ</text>
<g clip-path="url(#cr)"><path d="M94.42 597.84h2.9v2.9h-2.9zM95.87 597.84V600.74M94.59 597.84h2.9v2.9h-2.9zM96.04 597.84V600.74M94.77 597.83h2.9v2.9h-2.9zM96.22 597.83V600.73M94.96 597.83h2.9v2.9h-2.9zM96.41 597.83V600.73M95.15 597.82h2.9v2.9h-2.9zM96.6 597.82V600.72M95.34 597.82h2.9v2.9h-2.9zM96.79 597.82V600.72M95.54 597.81h2.9v2.9h-2.9zM96.99 597.81V600.71M95.73 597.8h2.9v2.9h-2.9zM97.18 597.8V600.7M95.94 597.8h2.9v2.9h-2.9zM97.39 597.8V600.7M96.15 597.79h2.9v2.9h-2.9zM97.6 597.79V600.69M96.36 597.79h2.9v2.9h-2.9zM97.81 597.79V600.69M96.58 597.78h2.9v2.9h-2.9zM98.03 597.78V600.68M96.8 597.77h2.9v2.9h-2.9zM98.25 597.77V600.67M97.02 597.77h2.9v2.9h-2.9zM98.47 597.77V600.67M97.25 597.76h2.9v2.9h-2.9zM98.7 597.76V600.66M97.49 597.75h2.9v2.9h-2.9zM98.94 597.75V600.65M97.72 597.75h2.9v2.9h-2.9zM99.17 597.75V600.65M97.97 597.74h2.9v2.9h-2.9zM99.42 597.74V600.64M98.22 597.73h2.9v2.9h-2.9zM99.67 597.73V600.63M98.47 597.73h2.9v2.9h-2.9zM99.92 597.73V600.63M98.73 597.72h2.9v2.9h-2.9zM100.18 597.72V600.62M98.99 597.71h2.9v2.9h-2.9zM100.44 597.71V600.61M99.26 597.7h2.9v2.9h-2.9zM100.71 597.7V600.6M99.54 597.7h2.9v2.9h-2.9zM100.99 597.7V600.6M99.82 597.69h2.9v2.9h-2.9zM101.27 597.69V600.59M100.1 597.68h2.9v2.9h-2.9zM101.55 597.68V600.58M100.39 597.67h2.9v2.9h-2.9zM101.84 597.67V600.57M100.69 597.66h2.9v2.9h-2.9zM102.14 597.66V600.56M100.99 597.65h2.9v2.9h-2.9zM102.44 597.65V600.55M101.3 597.6h2.9v2.9h-2.9zM102.75 597.6V600.5M101.62 597.49h2.9v2.9h-2.9zM103.07 597.49V600.39M101.94 597.37h2.9v2.9h-2.9zM103.39 597.37V600.27M102.27 597.26h2.9v2.9h-2.9zM103.72 597.26V600.16M102.6 597.14h2.9v2.9h-2.9zM104.05 597.14V600.04M102.94 597.02h2.9v2.9h-2.9zM104.39 597.02V599.92M103.29 596.9h2.9v2.9h-2.9zM104.74 596.9V599.8M103.64 596.77h2.9v2.9h-2.9zM105.09 596.77V599.67M104.01 596.65h2.9v2.9h-2.9zM105.46 596.65V599.55M104.38 596.52h2.9v2.9h-2.9zM105.83 596.52V599.42M104.75 596.39h2.9v2.9h-2.9zM106.2 596.39V599.29M105.14 596.25h2.9v2.9h-2.9zM106.59 596.25V599.15M105.53 596.11h2.9v2.9h-2.9zM106.98 596.11V599.01M105.93 595.97h2.9v2.9h-2.9zM107.38 595.97V598.87M106.34 595.83h2.9v2.9h-2.9zM107.79 595.83V598.73M106.75 595.68h2.9v2.9h-2.9zM108.2 595.68V598.58M107.18 595.53h2.9v2.9h-2.9zM108.63 595.53V598.43M107.61 595.38h2.9v2.9h-2.9zM109.06 595.38V598.28M108.05 595.23h2.9v2.9h-2.9zM109.5 595.23V598.13M108.5 595.07h2.9v2.9h-2.9zM109.95 595.07V597.97M108.96 594.91h2.9v2.9h-2.9zM110.41 594.91V597.81M109.43 594.74h2.9v2.9h-2.9zM110.88 594.74V597.64M109.91 594.58h2.9v2.9h-2.9zM111.36 594.58V597.48M110.39 594.4h2.9v2.9h-2.9zM111.84 594.4V597.3M110.89 594.23h2.9v2.9h-2.9zM112.34 594.23V597.13M111.4 594.05h2.9v2.9h-2.9zM112.85 594.05V596.95M111.92 593.87h2.9v2.9h-2.9zM113.37 593.87V596.77M112.44 593.69h2.9v2.9h-2.9zM113.89 593.69V596.59M112.98 593.5h2.9v2.9h-2.9zM114.43 593.5V596.4M113.53 593.31h2.9v2.9h-2.9zM114.98 593.31V596.21M114.09 593.11h2.9v2.9h-2.9zM115.54 593.11V596.01M114.66 592.91h2.9v2.9h-2.9zM116.11 592.91V595.81M115.24 592.71h2.9v2.9h-2.9zM116.69 592.71V595.61M115.84 592.5h2.9v2.9h-2.9zM117.29 592.5V595.4M116.44 592.29h2.9v2.9h-2.9zM117.89 592.29V595.19M117.06 592.08h2.9v2.9h-2.9zM118.51 592.08V594.98M117.69 591.85h2.9v2.9h-2.9zM119.14 591.85V594.75M118.33 591.63h2.9v2.9h-2.9zM119.78 591.63V594.53M118.99 591.42h2.9v2.9h-2.9zM120.44 591.42V594.32M119.66 591.28h2.9v2.9h-2.9zM121.11 591.28V594.18M120.34 591.13h2.9v2.9h-2.9zM121.79 591.13V594.03M121.04 590.98h2.9v2.9h-2.9zM122.49 590.98V593.88M121.75 590.83h2.9v2.9h-2.9zM123.2 590.83V593.73M122.47 590.68h2.9v2.9h-2.9zM123.92 590.68V593.58M123.21 590.52h2.9v2.9h-2.9zM124.66 590.52V593.42M123.96 590.36h2.9v2.9h-2.9zM125.41 590.36V593.26M124.73 590.2h2.9v2.9h-2.9zM126.18 590.2V593.1M125.52 590.03h2.9v2.9h-2.9zM126.97 590.03V592.93M126.32 589.86h2.9v2.9h-2.9zM127.77 589.86V592.76M127.13 589.69h2.9v2.9h-2.9zM128.58 589.69V592.59M127.96 589.51h2.9v2.9h-2.9zM129.41 589.51V592.41M128.81 589.36h2.9v2.9h-2.9zM130.26 589.36V592.26M129.68 589.22h2.9v2.9h-2.9zM131.13 589.22V592.12M130.56 589.09h2.9v2.9h-2.9zM132.01 589.09V591.99M131.46 588.94h2.9v2.9h-2.9zM132.91 588.94V591.84M132.38 588.8h2.9v2.9h-2.9zM133.83 588.8V591.7M133.31 588.65h2.9v2.9h-2.9zM134.76 588.65V591.55M134.27 588.5h2.9v2.9h-2.9zM135.72 588.5V591.4M135.24 588.35h2.9v2.9h-2.9zM136.69 588.35V591.25M136.24 588.19h2.9v2.9h-2.9zM137.69 588.19V591.09M137.25 588.03h2.9v2.9h-2.9zM138.7 588.03V590.93M138.29 587.87h2.9v2.9h-2.9zM139.74 587.87V590.77M139.34 587.7h2.9v2.9h-2.9zM140.79 587.7V590.6M140.42 587.53h2.9v2.9h-2.9zM141.87 587.53V590.43M141.52 587.36h2.9v2.9h-2.9zM142.97 587.36V590.26M142.64 587.18h2.9v2.9h-2.9zM144.09 587.18V590.08M143.78 587h2.9v2.9h-2.9zM145.23 587V589.9M144.94 586.81h2.9v2.9h-2.9zM146.39 586.81V589.71M146.13 586.63h2.9v2.9h-2.9zM147.58 586.63V589.53M147.34 586.44h2.9v2.9h-2.9zM148.79 586.44V589.34M148.58 586.28h2.9v2.9h-2.9zM150.03 586.28V589.18M149.84 586.12h2.9v2.9h-2.9zM151.29 586.12V589.02M151.12 585.96h2.9v2.9h-2.9zM152.57 585.96V588.86M152.44 585.79h2.9v2.9h-2.9zM153.89 585.79V588.69M153.77 585.63h2.9v2.9h-2.9zM155.22 585.63V588.53M155.14 585.45h2.9v2.9h-2.9zM156.59 585.45V588.35M156.53 585.28h2.9v2.9h-2.9zM157.98 585.28V588.18M157.95 585.19h2.9v2.9h-2.9zM159.4 585.19V588.09M159.4 585.11h2.9v2.9h-2.9zM160.85 585.11V588.01M160.88 585.03h2.9v2.9h-2.9zM162.33 585.03V587.93M162.38 584.95h2.9v2.9h-2.9zM163.83 584.95V587.85M163.92 584.87h2.9v2.9h-2.9zM165.37 584.87V587.77M165.49 584.79h2.9v2.9h-2.9zM166.94 584.79V587.69M167.09 584.71h2.9v2.9h-2.9zM168.54 584.71V587.61M168.72 584.63h2.9v2.9h-2.9zM170.17 584.63V587.53M170.38 584.55h2.9v2.9h-2.9zM171.83 584.55V587.45M172.08 584.46h2.9v2.9h-2.9zM173.53 584.46V587.36M173.81 584.38h2.9v2.9h-2.9zM175.26 584.38V587.28M175.57 584.29h2.9v2.9h-2.9zM177.02 584.29V587.19M177.37 584.2h2.9v2.9h-2.9zM178.82 584.2V587.1M179.21 584.15h2.9v2.9h-2.9zM180.66 584.15V587.05M181.08 584.15h2.9v2.9h-2.9zM182.53 584.15V587.05M183 584.15h2.9v2.9h-2.9zM184.45 584.14V587.06M184.94 584.15h2.9v2.9h-2.9zM186.39 584.13V587.07M186.93 584.15h2.9v2.9h-2.9zM188.38 584.12V587.08" stroke="#151515" stroke-width="1.0" fill="none"/><path d="M188.96 584.15h2.9v2.9h-2.9zM190.41 584.11V587.09M191.03 584.15h2.9v2.9h-2.9zM192.48 584.1V587.1M193.14 584.17h2.9v2.9h-2.9zM194.59 584.1V587.13M195.29 584.2h2.9v2.9h-2.9zM196.74 584.13V587.18M197.49 584.24h2.9v2.9h-2.9zM198.94 584.15V587.23M199.82 584.38h2.7v2.7h-2.7zM201.17 584.18V587.28M202.11 584.42h2.7v2.7h-2.7zM203.46 584.21V587.33M204.44 584.45h2.7v2.7h-2.7zM205.79 584.23V587.38M206.81 584.49h2.7v2.7h-2.7zM208.16 584.26V587.43M209.24 584.53h2.7v2.7h-2.7zM210.59 584.29V587.48M211.71 584.58h2.7v2.7h-2.7zM213.06 584.32V587.54" stroke="#2a2a2a" stroke-width="1.0" fill="none"/><path d="M214.23 584.62h2.7v2.7h-2.7zM215.58 584.35V587.59M216.8 584.66h2.7v2.7h-2.7zM218.15 584.38V587.65M219.43 584.7h2.7v2.7h-2.7zM220.78 584.41V587.7M222.1 584.75h2.7v2.7h-2.7zM223.45 584.44V587.76M224.83 584.79h2.7v2.7h-2.7zM226.18 584.47V587.82M227.61 584.84h2.7v2.7h-2.7zM228.96 584.5V587.88M230.45 584.89h2.7v2.7h-2.7zM231.8 584.53V587.94M233.35 584.94h2.7v2.7h-2.7zM234.7 584.57V588.01M236.3 584.99h2.7v2.7h-2.7zM237.65 584.6V588.07M239.32 585.04h2.7v2.7h-2.7zM240.67 584.64V588.14M242.39 585.04h2.7v2.7h-2.7zM243.74 584.62V588.16" stroke="#3c3c3c" stroke-width="1.0" fill="none"/><path d="M245.53 585.02h2.7v2.7h-2.7zM246.88 584.59V588.16M248.72 585.01h2.7v2.7h-2.7zM250.07 584.56V588.16M251.98 584.99h2.7v2.7h-2.7zM253.33 584.53V588.16M255.31 584.97h2.7v2.7h-2.7zM256.66 584.49V588.16M258.71 584.96h2.7v2.7h-2.7zM260.06 584.46V588.16M262.17 584.94h2.7v2.7h-2.7zM263.52 584.42V588.16M265.7 584.92h2.7v2.7h-2.7zM267.05 584.39V588.16M269.3 584.9h2.7v2.7h-2.7zM270.65 584.35V588.16M272.97 584.89h2.7v2.7h-2.7zM274.32 584.31V588.16M276.72 584.87h2.7v2.7h-2.7zM278.07 584.28V588.16" stroke="#4a4a4a" stroke-width="1.0" fill="none"/><path d="M280.54 584.85h2.7v2.7h-2.7zM281.89 584.24V588.16M284.44 584.85h2.7v2.7h-2.7zM285.79 584.22V588.18M288.41 584.75h2.7v2.7h-2.7zM289.76 584.1V588.11M292.47 584.56h2.7v2.7h-2.7zM293.82 583.89V587.93M296.61 584.55h2.7v2.7h-2.7zM297.96 583.86V587.94M300.82 584.45h2.7v2.7h-2.7zM302.17 583.74V587.87M305.13 584.26h2.7v2.7h-2.7zM306.48 583.52V587.69M309.52 583.94h2.7v2.7h-2.7zM310.87 583.18V587.4M314 583.75h2.7v2.7h-2.7zM315.35 582.97V587.23M318.56 583.75h2.7v2.7h-2.7zM319.91 582.94V587.26M323.22 583.74h2.7v2.7h-2.7zM324.57 582.91V587.27M327.97 583.44h2.7v2.7h-2.7zM329.32 582.59V587M332.82 583.05h2.7v2.7h-2.7zM334.17 582.17V586.63M337.76 582.25h2.7v2.7h-2.7zM339.11 581.34V585.85M342.81 581.74h2.7v2.7h-2.7zM344.16 580.81V585.37M347.95 581.15h2.7v2.7h-2.7zM349.3 580.19V584.81M353.2 580.36h2.7v2.7h-2.7zM354.55 579.37V584.04M358.55 579.64h2.7v2.7h-2.7zM359.9 578.63V583.35M364 579.24h2.7v2.7h-2.7zM365.35 578.2V582.98M369.57 578.54h2.7v2.7h-2.7zM370.92 577.48V582.31M375.25 578.39h2.7v2.7h-2.7zM376.6 577.3V582.19M381.04 578.06h2.7v2.7h-2.7zM382.39 576.94V581.89M386.95 578.05h2.7v2.7h-2.7zM388.3 576.89V581.91M392.98 576.64h2.7v2.7h-2.7zM394.33 575.45V580.53M399.12 576.55h2.7v2.7h-2.7zM400.47 575.33V580.47M405.39 576.17h2.7v2.7h-2.7zM406.74 574.92V580.12M411.79 575.38h2.7v2.7h-2.7zM413.14 574.1V579.37M418.31 574.87h2.7v2.7h-2.7zM419.66 573.55V578.89M424.96 575.05h2.7v2.7h-2.7zM426.31 573.7V579.1M431.75 574.85h2.7v2.7h-2.7zM433.1 573.46V578.94M438.67 575.84h2.7v2.7h-2.7zM440.02 574.42V579.96M445.73 577.06h2.7v2.7h-2.7zM447.08 575.6V581.22M452.94 577.84h2.7v2.7h-2.7zM454.29 576.34V582.03M460.28 578.45h2.7v2.7h-2.7zM461.63 576.92V582.68M467.77 578.46h2.7v2.7h-2.7zM469.12 576.89V582.73M475.42 579.03h2.7v2.7h-2.7zM476.77 577.42V583.34M483.21 578.26h2.7v2.7h-2.7zM484.56 576.61V582.61M491.16 579.02h2.7v2.7h-2.7zM492.51 577.33V583.41M499.28 577.76h2.7v2.7h-2.7zM500.63 576.03V582.19M507.55 576.07h2.7v2.7h-2.7zM508.9 574.3V580.55M515.99 575.17h2.7v2.7h-2.7zM517.34 573.35V579.69M524.59 576.04h2.7v2.7h-2.7zM525.94 574.18V580.61M533.37 573.5h2.7v2.7h-2.7zM534.72 571.6V578.11M542.33 573.75h2.7v2.7h-2.7zM543.68 571.8V578.4M551.46 570.95h2.7v2.7h-2.7zM552.81 568.95V575.64M560.78 566.43h2.7v2.7h-2.7zM562.13 564.39V571.18M570.28 567.12h2.7v2.7h-2.7zM571.63 565.02V571.92M579.97 567.15h2.7v2.7h-2.7zM581.32 565V572M589.86 571.28h2.7v2.7h-2.7zM591.21 569.09V576.18M599.94 572.34h2.7v2.7h-2.7zM601.29 570.09V577.29M610.23 576.56h2.7v2.7h-2.7zM611.58 574.26V581.56M620.72 572.56h2.7v2.7h-2.7zM622.07 570.21V577.62M631.42 569.46h2.7v2.7h-2.7zM632.77 567.05V574.57M642.34 571.23h2.7v2.7h-2.7zM643.69 568.77V576.4M653.47 573.43h2.7v2.7h-2.7zM654.82 570.91V578.66M664.83 568.16h2.7v2.7h-2.7zM666.18 565.58V573.44M676.41 582.97h2.7v2.7h-2.7zM688.23 586.58h2.7v2.7h-2.7zM700.28 585.67h2.7v2.7h-2.7zM712.57 587.52h2.7v2.7h-2.7zM725.11 606.35h2.7v2.7h-2.7z" stroke="#555555" stroke-width="1.0" fill="none"/><path d="M677.76 578.6V590.6M689.58 583V594M701.63 581.2V593.6M713.92 554.7V645M726.46 590.9V632.2" stroke="#6a6a6a" stroke-width="1.3" fill="none"/></g>
<text transform="translate(87.4 651.8) scale(1 1.05)" y="5.8" font-size="16.3" text-anchor="middle">0</text>
<text transform="translate(275.65 651.8) scale(1 1.05)" y="5.8" font-size="16.3" text-anchor="middle">5</text>
<text transform="translate(463.9 651.8) scale(1 1.05)" y="5.8" font-size="16.3" text-anchor="middle">10</text>
<text transform="translate(652.15 651.8) scale(1 1.05)" y="5.8" font-size="16.3" text-anchor="middle">15</text>
<text transform="translate(840.4 651.8) scale(1 1.05)" y="5.8" font-size="16.3" text-anchor="middle">20</text>
<text transform="translate(463.6 670.2) scale(1 1.03)" y="6" font-size="16.8" text-anchor="middle">sma [arcsec]</text>
<text x="7.4" y="706.2" font-size="8.15" style="fill:#222">/data/alan/fds2//data/alan/fds2/FDS9_0357_r2g_D_final.outgal_1dprof</text>
<text x="875.8" y="706.2" font-size="8.15" text-anchor="end" style="fill:#222;white-space:pre" xml:space="preserve">alan@  Tue Nov 12 03:49:57 2019</text>
</svg>
</body></html>
